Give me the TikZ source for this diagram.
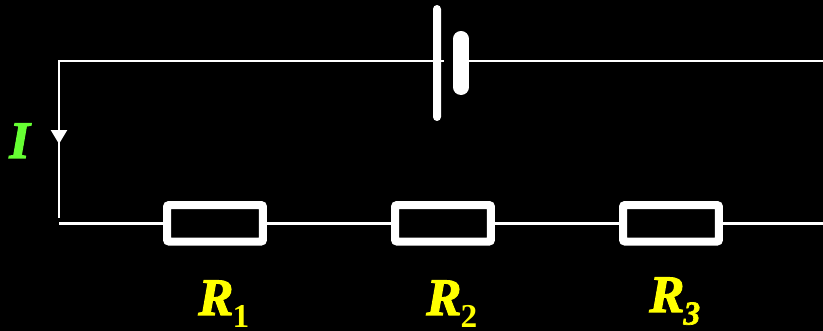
\documentclass[tikz,border=0pt]{standalone}
\usepackage{fontspec}
\setmainfont{Liberation Serif}[BoldItalicFeatures={FakeBold=2}]
\usetikzlibrary{arrows.meta}
\definecolor{lblyellow}{RGB}{255,255,0}
\definecolor{lblgreen}{RGB}{102,255,51}
\tikzstyle{resistance} = [rectangle, draw=white, line width=0.16cm, rounded corners=0.04cm, minimum width=1.92cm, minimum height=0.73cm, inner sep=0pt, fill=black]
\tikzstyle{plate} = [rectangle, fill=white, inner sep=0pt]
\tikzstyle{wire} = [draw=white, line width=0.05cm]
\tikzstyle{lbl} = [anchor=base west, inner sep=0pt, text=lblyellow, font=\fontsize{30}{30}\selectfont\bfseries\itshape]
\newcommand{\subidx}[1]{\raisebox{-0.25cm}[0pt][0pt]{\hspace{-0.02cm}\fontsize{19}{19}\selectfont #1}}

\begin{document}
\begin{tikzpicture}[x=0.02cm, y=-0.02cm]

        \fill[black] (0,0) rectangle (823,331);
        \useasboundingbox (0,0) rectangle (823,331);

        \coordinate (C1) at (59,61);
        \coordinate (C2) at (59,144);
        \coordinate (C3) at (59,218);
        \coordinate (C4) at (59,223.5);
        \coordinate (C5) at (823,61);
        \coordinate (C6) at (823,223.5);

        \node (P1) [plate, rounded corners=0.08cm, minimum width=0.16cm, minimum height=2.32cm] at (437,63) {};
        \node (P2) [plate, rounded corners=0.159cm, minimum width=0.32cm, minimum height=1.28cm] at (461,63) {};

        \draw[wire] (P1.center |- C1) -- (C1) -- (C2);
        \draw[wire, -{Triangle[length=0.28cm, width=0.32cm]}] (C1) -- (C2);
        \draw[wire] (C2) -- (C3);
        \draw[wire] (P1.center |- C1) -- +(7,0);
        \draw[wire] (P2.center |- C5) -- (C5);
        \draw[wire] (C4) -- (C6);

        \node (R1) [resistance] at (215,223.3) {};
        \node (R2) [resistance] at (443,223.3) {};
        \node (R3) [resistance] at (671,223.3) {};

        \node (I) [lbl, text=lblgreen] at (9,158) {I};
        \node (L1) [lbl] at (198,315) {R\subidx{\upshape 1}};
        \node (L2) [lbl] at (426,315) {R\subidx{\upshape 2}};
        \node (L3) [lbl] at (649,312) {R\subidx{3}};

    \end{tikzpicture}
\end{document}
